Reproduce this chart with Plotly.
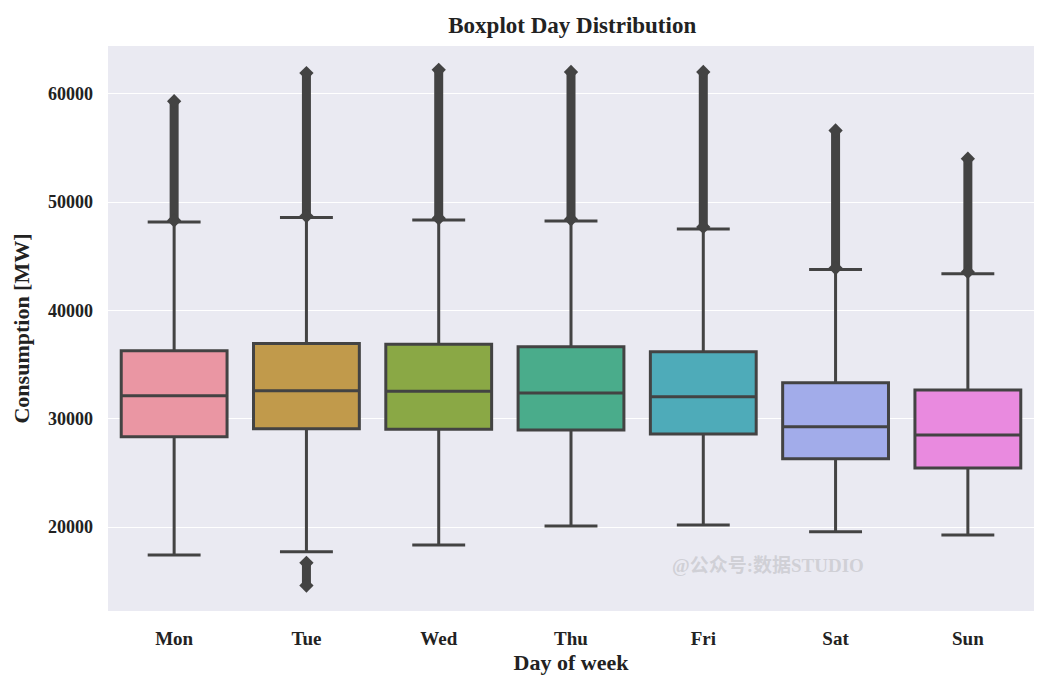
import plotly.graph_objects as go

days = ["Mon", "Tue", "Wed", "Thu", "Fri", "Sat", "Sun"]
q1 = [28340, 29080, 29020, 28960, 28590, 26310, 25450]
median = [32120, 32590, 32530, 32370, 32030, 29260, 28490]
q3 = [36280, 36930, 36870, 36650, 36190, 33320, 32650]
lower_whisker = [17415, 17720, 18340, 20090, 20180, 19570, 19260]
upper_whisker = [48160, 48560, 48350, 48250, 47520, 43760, 43390]
# upper outliers: first outlier above whisker and max value
upper_outlier_low = [48300, 48700, 48500, 48400, 47700, 43900, 43550]
upper_outlier_high = [59300, 61900, 62200, 62000, 62000, 56600, 54000]
# lower outliers (Tue only)
lower_outlier_day = ["Tue"]
lower_outlier_high = [16700]
lower_outlier_low = [14600]
y_ticks = [20000, 30000, 40000, 50000, 60000]

colors = ["#ea96a3", "#c19a4b", "#8aa845", "#4aac8b", "#4eabb9", "#a2acea", "#e98adf"]
edge = "#434343"
font_family = "Liberation Serif, Noto Sans CJK SC, serif"

fig = go.Figure()
for i, d in enumerate(days):
    fig.add_trace(go.Box(
        x=[d], q1=[q1[i]], median=[median[i]], q3=[q3[i]],
        lowerfence=[lower_whisker[i]], upperfence=[upper_whisker[i]],
        width=0.8,
        fillcolor=colors[i], line=dict(color=edge, width=3),
        whiskerwidth=0.5, boxpoints=False, showlegend=False,
        hoverinfo="skip",
    ))
    fig.add_trace(go.Scatter(
        x=[d, d], y=[upper_outlier_low[i], upper_outlier_high[i]],
        mode="lines+markers",
        line=dict(color=edge, width=9),
        marker=dict(symbol="diamond", size=11, color=edge),
        showlegend=False, hoverinfo="skip",
    ))

for j, d in enumerate(lower_outlier_day):
    fig.add_trace(go.Scatter(
        x=[d, d], y=[lower_outlier_low[j], lower_outlier_high[j]],
        mode="lines+markers",
        line=dict(color=edge, width=9),
        marker=dict(symbol="diamond", size=11, color=edge),
        showlegend=False, hoverinfo="skip",
    ))

fig.update_layout(
    width=1043, height=681,
    margin=dict(l=100, r=17, t=38, b=78, autoexpand=False),
    paper_bgcolor="white", plot_bgcolor="#eaeaf2",
    boxmode="overlay",
    font=dict(family=font_family, color="#222222"),
    title=dict(text="<b>Boxplot Day Distribution</b>", x=0.541, xanchor="center",
               y=0.975, yanchor="middle", font=dict(size=23, family=font_family)),
    xaxis=dict(
        type="category", categoryorder="array", categoryarray=days,
        range=[-0.5, 6.5], showgrid=False, zeroline=False, showline=False,
        automargin=False,
        ticks="", tickfont=dict(size=19, family=font_family, weight="bold"),
        ticklabelstandoff=14,
        title=dict(text="<b>Day of week</b>", font=dict(size=22), standoff=6),
    ),
    yaxis=dict(
        range=[12250, 64400], showgrid=True, gridcolor="white", gridwidth=1.3,
        zeroline=False, showline=False, ticks="", automargin=False,
        tickvals=y_ticks, ticktext=[str(v) for v in y_ticks],
        tickfont=dict(size=18, family=font_family, weight="bold"),
        ticklabelstandoff=14,
        title=dict(text="<b>Consumption [MW]</b>", font=dict(size=22), standoff=12),
    ),
)

fig.add_annotation(
    text="<b>@公众号:数据STUDIO</b>", xref="paper", yref="paper",
    x=0.713, y=0.080, xanchor="center", yanchor="middle", showarrow=False,
    font=dict(size=19, family=font_family, color="rgba(205,205,210,0.9)"),
)

fig.write_html("out.html")
